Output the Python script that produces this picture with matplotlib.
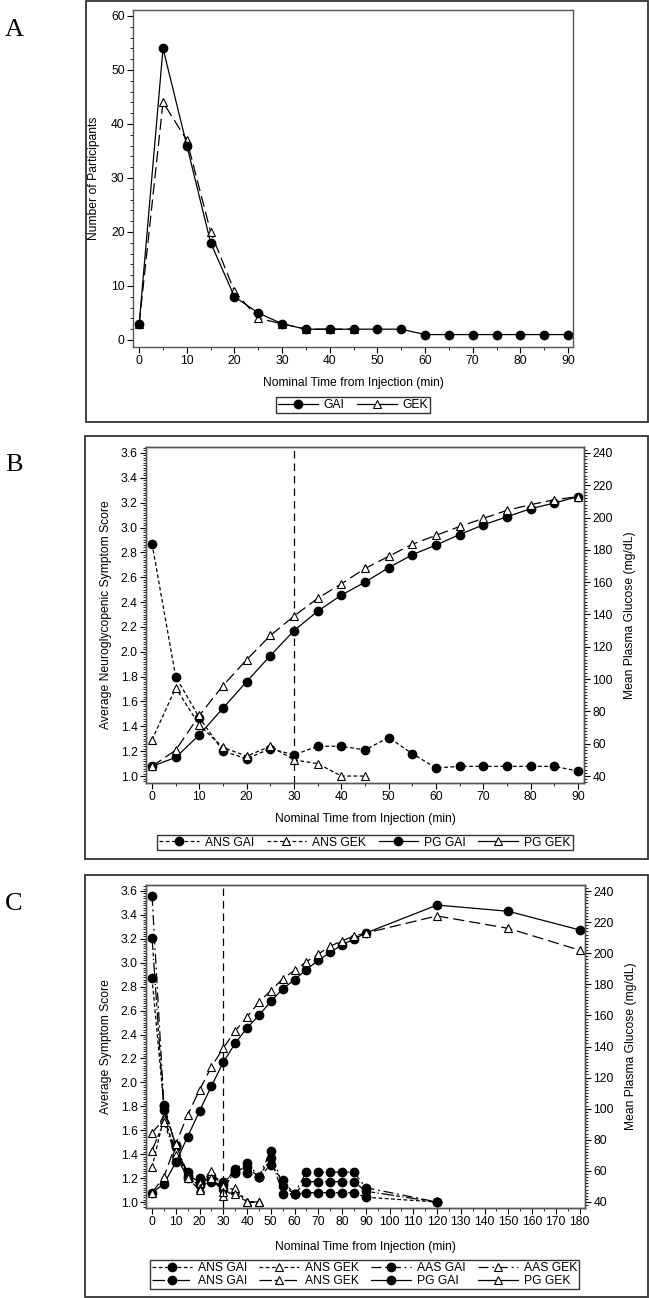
import matplotlib
matplotlib.use("Agg")
import matplotlib.pyplot as plt
from matplotlib.lines import Line2D
from matplotlib.patches import Rectangle
from matplotlib.ticker import MultipleLocator

plt.rcParams['font.family'] = ['Liberation Sans', 'DejaVu Sans']
plt.rcParams['font.size'] = 8.7

# ======================================================
# data
# ======================================================
t90 = [0, 5, 10, 15, 20, 25, 30, 35, 40, 45, 50, 55, 60, 65, 70, 75, 80, 85, 90]

# panel A - number of participants
n_gai = [3, 54, 36, 18, 8, 5, 3, 2, 2, 2, 2, 2, 1, 1, 1, 1, 1, 1, 1]
t_gek_a = [0, 5, 10, 15, 20, 25, 30, 35, 40, 45]
n_gek = [3, 44, 37, 20, 9, 4, 3, 2, 2, 2]

# panel B - symptom score (left) / plasma glucose (right)
ans_gai = [2.87, 1.80, 1.47, 1.20, 1.14, 1.22, 1.17, 1.24, 1.24, 1.21,
           1.31, 1.18, 1.065, 1.078, 1.078, 1.078, 1.078, 1.078, 1.04]
t_gek = [0, 5, 10, 15, 20, 25, 30, 35, 40, 45]
ans_gek = [1.29, 1.71, 1.41, 1.23, 1.16, 1.24, 1.13, 1.10, 1.00, 1.00]
pg_gai = [46, 51.5, 65.5, 82, 98.5, 114.5, 130, 142, 152, 160,
          169, 177, 183, 189.5, 195.5, 200.5, 205.5, 209, 213]
pg_gek = [46, 56, 77.5, 96, 112, 127, 139, 150, 159, 168.5,
          176, 183.5, 189, 194.5, 199.5, 204.5, 208, 211, 213]

# panel C - extra time points and series
t120 = t90 + [120]
t180 = t90 + [120, 150, 180]
ans_gai_c = ans_gai + [1.00]
aas_gai_c = [3.56, 1.81, 1.46, 1.25, 1.20, 1.17, 1.14, 1.28, 1.33, 1.21,
             1.43, 1.13, 1.07, 1.25, 1.25, 1.25, 1.25, 1.25, 1.12, 1.00]
ans2_gai_c = [3.21, 1.77, 1.48, 1.22, 1.17, 1.19, 1.11, 1.26, 1.29, 1.21,
              1.37, 1.07, 1.07, 1.17, 1.17, 1.17, 1.17, 1.17, 1.09, 1.00]
aas_gek_c = [1.58, 1.69, 1.43, 1.22, 1.12, 1.26, 1.05, 1.12, 1.00, 1.00]
ans2_gek_c = [1.43, 1.67, 1.39, 1.20, 1.10, 1.20, 1.08, 1.07, 1.00, 1.00]
pg_gai_c = pg_gai + [231, 227, 215]
pg_gek_c = pg_gek + [224, 216, 202]

# ======================================================
# styles
# ======================================================
W, H = 649, 1298
fig = plt.figure(figsize=(W / 100, H / 100), dpi=100)

ls_ans = (0, (3, 2))
ls_gek = (0, (9, 4))
ls_aas = (0, (8, 3, 1.5, 3))
ls_ans2 = (0, (10, 2, 3, 2, 1, 2))
ls_vline = (0, (6, 4))

circ = dict(marker='o', ms=6, mfc='black', mec='black', color='black', lw=0.9)
tri = dict(marker='^', ms=5.5, mfc='white', mec='black', mew=0.8, color='black', lw=0.9)


def rect(l, t, r, b):
    return [l / W, 1 - b / H, (r - l) / W, (b - t) / H]


def style_ax(ax):
    for s in ax.spines.values():
        s.set_color('#555555')
        s.set_linewidth(1.0)
    ax.tick_params(which='major', direction='out', length=4, width=0.8, labelsize=8.7, pad=2)
    ax.tick_params(which='minor', direction='out', length=2, width=0.6)


def panel_box(l, t, r, b, letter):
    fig.patches.append(Rectangle((l / W, 1 - b / H), (r - l) / W, (b - t) / H,
                                 transform=fig.transFigure, fill=False,
                                 edgecolor='#333333', lw=1.3))
    fig.text(14 / W, 1 - (t + 29) / H, letter, family='Liberation Serif',
             fontsize=19, ha='center', va='center')


def legend_at(handles, labels, cx, cy, ncol):
    fig.legend(handles, labels, loc='center', bbox_to_anchor=(cx / W, 1 - cy / H),
               ncol=ncol, frameon=True, fancybox=False, edgecolor='black',
               handlelength=3.3, handletextpad=0.5, columnspacing=1.0,
               borderpad=0.15, labelspacing=0.1, fontsize=8.7)


# ======================================================
# A
# ======================================================
panel_box(86, 1, 648, 422, 'A')
ax = fig.add_axes(rect(133, 10, 573, 347))
style_ax(ax)
ax.plot(t90, n_gai, linestyle='-', **circ)
ax.plot(t_gek_a, n_gek, linestyle=ls_gek, zorder=1, **tri)
ax.set_xlim(-1.3, 91.05)
ax.set_ylim(-1.3, 61.1)
ax.xaxis.set_major_locator(MultipleLocator(10))
ax.xaxis.set_minor_locator(MultipleLocator(5))
ax.yaxis.set_major_locator(MultipleLocator(10))
ax.yaxis.set_minor_locator(MultipleLocator(2))
ax.set_xlabel('Nominal Time from Injection (min)', labelpad=7)
ax.set_ylabel('Number of Participants', labelpad=8)

h = [Line2D([], [], linestyle='-', **circ), Line2D([], [], linestyle='-', **tri)]
legend_at(h, ['GAI', 'GEK'], 353, 405, 2)

# ======================================================
# B
# ======================================================
panel_box(85, 436, 648, 859, 'B')
ax = fig.add_axes(rect(146, 447, 584, 783))
ax2 = ax.twinx()
style_ax(ax)
style_ax(ax2)
ax.plot(t90, ans_gai, linestyle=ls_ans, **circ)
ax.plot(t_gek, ans_gek, linestyle=ls_ans, **tri)
ax2.plot(t90, pg_gai, linestyle='-', **circ)
ax2.plot(t90, pg_gek, linestyle=ls_gek, **tri)
ax.axvline(30, color='black', lw=0.9, linestyle=ls_vline)
ax.set_xlim(-1.27, 91.27)
ax.set_ylim(0.944, 3.648)
ax2.set_ylim(35.67, 243.7)
ax.xaxis.set_major_locator(MultipleLocator(10))
ax.xaxis.set_minor_locator(MultipleLocator(5))
ax.yaxis.set_major_locator(MultipleLocator(0.2))
ax.yaxis.set_minor_locator(MultipleLocator(0.02))
ax2.yaxis.set_major_locator(MultipleLocator(20))
ax2.yaxis.set_minor_locator(MultipleLocator(2))
ax.yaxis.set_major_formatter('{x:.1f}')
ax.set_xlabel('Nominal Time from Injection (min)', labelpad=7)
ax.set_ylabel('Average Neuroglycopenic Symptom Score', labelpad=6)
ax2.set_ylabel('Mean Plasma Glucose (mg/dL)', labelpad=8)

h = [Line2D([], [], linestyle=ls_ans, **circ), Line2D([], [], linestyle=ls_ans, **tri),
     Line2D([], [], linestyle='-', **circ), Line2D([], [], linestyle='-', **tri)]
legend_at(h, ['ANS GAI', 'ANS GEK', 'PG GAI', 'PG GEK'], 365, 842.5, 4)

# ======================================================
# C
# ======================================================
panel_box(85, 875, 648, 1297, 'C')
ax = fig.add_axes(rect(146, 885, 585, 1208))
ax2 = ax.twinx()
style_ax(ax)
style_ax(ax2)
ax.plot(t120, ans_gai_c, linestyle=ls_ans, **circ)
ax.plot(t120, aas_gai_c, linestyle=ls_aas, **circ)
ax.plot(t120, ans2_gai_c, linestyle=ls_ans2, **circ)
ax.plot(t_gek, ans_gek, linestyle=ls_ans, **tri)
ax.plot(t_gek, aas_gek_c, linestyle=ls_aas, **tri)
ax.plot(t_gek, ans2_gek_c, linestyle=ls_ans2, **tri)
ax2.plot(t180, pg_gai_c, linestyle='-', **circ)
ax2.plot(t180, pg_gek_c, linestyle=ls_gek, **tri)
ax.axvline(30, color='black', lw=0.9, linestyle=ls_vline)
ax.set_xlim(-2.55, 182.3)
ax.set_ylim(0.95, 3.65)
ax2.set_ylim(36.1, 243.9)
ax.xaxis.set_major_locator(MultipleLocator(10))
ax.xaxis.set_minor_locator(MultipleLocator(5))
ax.yaxis.set_major_locator(MultipleLocator(0.2))
ax.yaxis.set_minor_locator(MultipleLocator(0.02))
ax2.yaxis.set_major_locator(MultipleLocator(20))
ax2.yaxis.set_minor_locator(MultipleLocator(2))
ax.yaxis.set_major_formatter('{x:.1f}')
ax.set_xlabel('Nominal Time from Injection (min)', labelpad=9)
ax.set_ylabel('Average Symptom Score', labelpad=6)
ax2.set_ylabel('Mean Plasma Glucose (mg/dL)', labelpad=8)

# ncol=4 fills column by column
h = [Line2D([], [], linestyle=ls_ans, **circ), Line2D([], [], linestyle=ls_ans2, **circ),
     Line2D([], [], linestyle=ls_ans, **tri), Line2D([], [], linestyle=ls_ans2, **tri),
     Line2D([], [], linestyle=ls_aas, **circ), Line2D([], [], linestyle='-', **circ),
     Line2D([], [], linestyle=ls_aas, **tri), Line2D([], [], linestyle='-', **tri)]
labels = ['ANS GAI', 'ANS GAI', 'ANS GEK', 'ANS GEK', 'AAS GAI', 'PG GAI', 'AAS GEK', 'PG GEK']
legend_at(h, labels, 364.5, 1274.5, 4)

fig.savefig('out.png', dpi=100)
